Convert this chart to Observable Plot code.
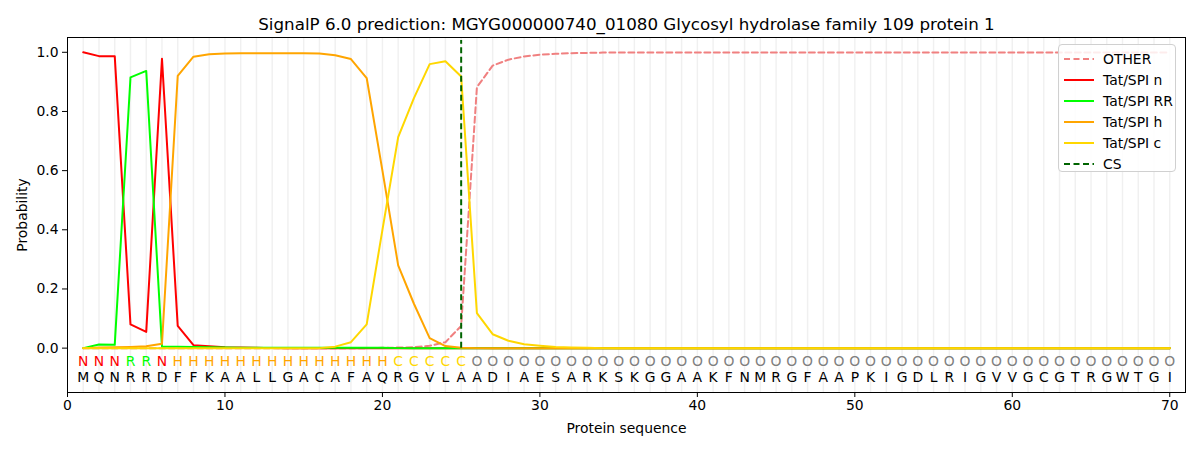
<!DOCTYPE html>
<html>
<head>
<meta charset="utf-8">
<script src="https://cdn.jsdelivr.net/npm/d3@7"></script>
<script src="https://cdn.jsdelivr.net/npm/@observablehq/plot@0.6"></script>
<style>
  body { margin: 0; background: #fff; font-family: "DejaVu Sans", sans-serif; }
  #wrap { position: relative; width: 1200px; height: 450px; }
  #legend { position: absolute; left: 1058px; top: 44px; width: 118px; height: 128px;
    border: 1px solid #d0d0d0; border-radius: 4px; background: rgba(255,255,255,0.85);
    font-size: 13.9px; color: #000; box-sizing: border-box; padding-top: 3px; }
  .row { height: 21px; display: flex; align-items: center; }
  .row svg { margin-left: 5px; margin-right: 9px; }
</style>
</head>
<body>
<div id="wrap"><div id="legend"></div></div>
<script>
const title = "SignalP 6.0 prediction: MGYG000000740_01080 Glycosyl hydrolase family 109 protein 1";
const sequence = "MQNRRDFFKAALLGACAFAQRGVLAADIAESARKSKGGAAKFNMRGFAAPKIGDLRIGVVGCGTRGWTGI".split("");
const labels = "NNNRRNHHHHHHHHHHHHHHCCCCCOOOOOOOOOOOOOOOOOOOOOOOOOOOOOOOOOOOOOOOOOOOOO".split("");
const positions = d3.range(1, 71);
const cleavageSite = 25;

const otherP = [0,0,0,0,0,0,0,0,0,0, 0,0,0,0,0,0,0,0,0,0.001,
  0.002,0.003,0.008,0.02,0.075,0.882,0.955,0.975,0.986,0.992,
  0.995,0.997,0.998,0.999,0.999,0.999,0.999,0.999,0.999,0.999,
  0.999,0.999,0.999,0.999,0.999,0.999,0.999,0.999,0.999,0.999,
  0.999,0.999,0.999,0.999,0.999,0.999,0.999,0.999,0.999,0.999,
  0.999,0.999,0.999,0.999,0.999,0.999,0.999,0.999,0.999,0.999];
const nP = [1.0,0.987,0.987,0.08,0.055,0.978,0.075,0.01,0.006,0.003,
  0.002,0.001,0,0,0,0,0,0,0,0, 0,0,0,0,0,0,0,0,0,0,
  0,0,0,0,0,0,0,0,0,0, 0,0,0,0,0,0,0,0,0,0,
  0,0,0,0,0,0,0,0,0,0, 0,0,0,0,0,0,0,0,0,0];
const rrP = [0,0.012,0.011,0.915,0.937,0.005,0.005,0.004,0.003,0.002,
  0.001,0.001,0.001,0.001,0.001,0.001,0.001,0.001,0.001,0.001,
  0,0,0,0,0,0,0,0,0,0, 0,0,0,0,0,0,0,0,0,0,
  0,0,0,0,0,0,0,0,0,0, 0,0,0,0,0,0,0,0,0,0, 0,0,0,0,0,0,0,0,0,0];
const hP = [0,0.002,0.003,0.004,0.006,0.015,0.92,0.985,0.993,0.996,
  0.997,0.997,0.997,0.997,0.997,0.996,0.99,0.977,0.913,0.6,
  0.28,0.15,0.034,0.007,0.001,0,0,0,0,0, 0,0,0,0,0,0,0,0,0,0,
  0,0,0,0,0,0,0,0,0,0, 0,0,0,0,0,0,0,0,0,0, 0,0,0,0,0,0,0,0,0,0];
const cP = [0,0,0,0,0,0,0,0,0,0, 0,0,0,0,0,0,0.005,0.02,0.08,0.4,
  0.713,0.845,0.96,0.97,0.918,0.118,0.047,0.025,0.013,0.008,
  0.004,0.002,0.001,0,0,0,0,0,0,0, 0,0,0,0,0,0,0,0,0,0,
  0,0,0,0,0,0,0,0,0,0, 0,0,0,0,0,0,0,0,0,0];

const series = [
  {name: "OTHER", values: otherP, color: "#f08080", dash: "6,3.5"},
  {name: "Tat/SPI n", values: nP, color: "#ff0000", dash: null},
  {name: "Tat/SPI RR", values: rrP, color: "#00ff00", dash: null},
  {name: "Tat/SPI h", values: hP, color: "#ffa500", dash: null},
  {name: "Tat/SPI c", values: cP, color: "#ffd700", dash: null}
];
const labelColor = {N: "#ff0000", R: "#00ff00", H: "#ffa500", C: "#ffd700", O: "#808080"};

const residues = positions.map((p, i) => ({pos: p, aa: sequence[i], lab: labels[i]}));

const marks = [
  Plot.ruleX(positions, {x: d => d, stroke: "#000", strokeOpacity: 0.06, strokeWidth: 1.5}),
  Plot.frame({stroke: "#000", strokeWidth: 1}),
  Plot.axisX({ticks: d3.range(0, 71, 10), tickSize: 5, tickPadding: 3, fontSize: 13.9,
    label: "Protein sequence", labelAnchor: "center", labelArrow: "none", labelOffset: 40}),
  Plot.axisY({ticks: d3.range(0, 1.01, 0.2), tickFormat: d3.format(".1f"), tickSize: 5, tickPadding: 4, fontSize: 13.9,
    label: "Probability", labelAnchor: "center", labelArrow: "none", labelOffset: 50}),
];
for (const s of series) {
  marks.push(Plot.line(positions.map((p, i) => ({x: p, y: s.values[i]})),
    {x: "x", y: "y", stroke: s.color, strokeWidth: 2, strokeDasharray: s.dash}));
}
marks.push(Plot.ruleX([cleavageSite], {x: d => d, y1: 0, y2: 1.04, stroke: "#006400", strokeWidth: 2, strokeDasharray: "6,3.5"}));
marks.push(Plot.text(residues, {x: "pos", y: -0.047, text: "lab", fill: d => labelColor[d.lab], fontSize: 13.9}));
marks.push(Plot.text(residues, {x: "pos", y: -0.1, text: "aa", fill: "#000", fontSize: 13.9}));
marks.push(Plot.text([title], {frameAnchor: "top", dy: -8, lineAnchor: "bottom", fontSize: 16.7, fill: "#000"}));

const chart = Plot.plot({
  width: 1200, height: 450,
  marginLeft: 67, marginRight: 15, marginTop: 37, marginBottom: 58,
  style: {fontFamily: "DejaVu Sans, sans-serif", fontSize: "13.9px", background: "#fff", color: "#000"},
  x: {domain: [0, 71]},
  y: {domain: [-0.15, 1.05]},
  marks
});
document.getElementById("wrap").prepend(chart);

const legend = document.getElementById("legend");
const entries = series.map(s => ({name: s.name, color: s.color, dash: s.dash}))
  .concat([{name: "CS", color: "#006400", dash: "6,3.5"}]);
for (const e of entries) {
  const row = document.createElement("div");
  row.className = "row";
  row.innerHTML = `<svg width="30" height="6"><line x1="0" x2="30" y1="3" y2="3" stroke="${e.color}" stroke-width="2" ${e.dash ? `stroke-dasharray="${e.dash}"` : ""}/></svg><span>${e.name}</span>`;
  legend.appendChild(row);
}
</script>
</body>
</html>
